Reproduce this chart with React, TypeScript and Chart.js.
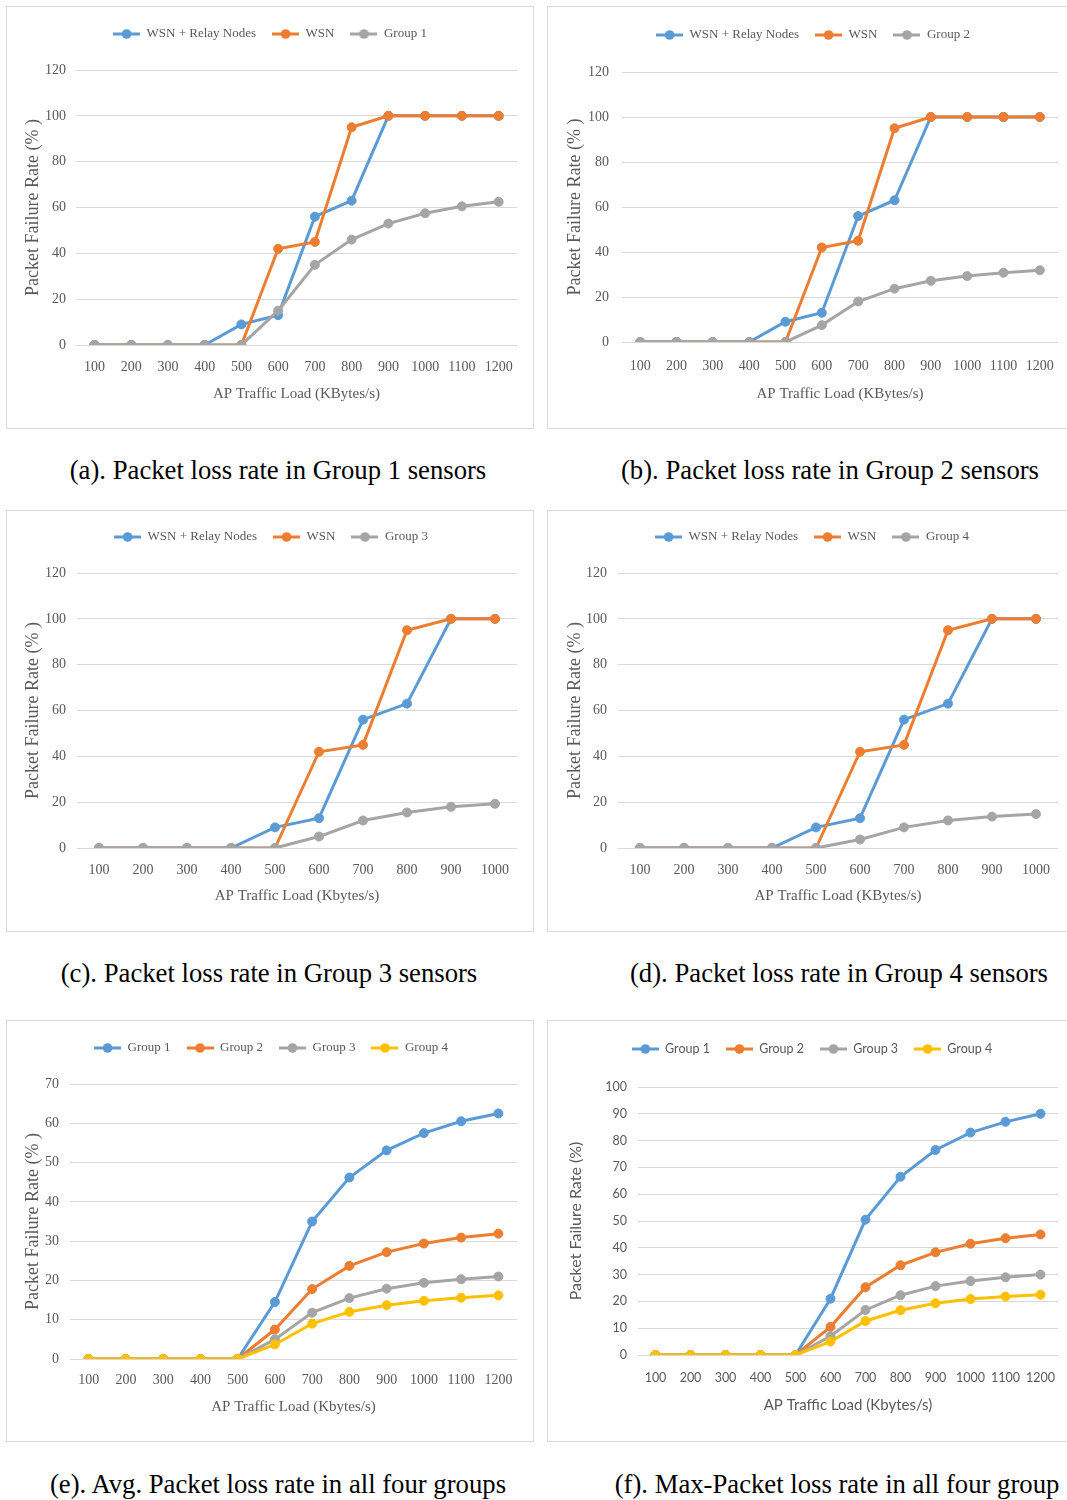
import React, { useEffect, useRef } from "react";
import { Chart, registerables } from "chart.js";

Chart.register(...registerables);

// ---------- data ----------
const loads12 = ["100", "200", "300", "400", "500", "600", "700", "800", "900", "1000", "1100", "1200"];
const loads10 = ["100", "200", "300", "400", "500", "600", "700", "800", "900", "1000"];

const relayA = [0, 0, 0, 0, 9, 13, 56, 63, 100, 100, 100, 100];
const wsnA = [0, 0, 0, 0, 0, 42, 45, 95, 100, 100, 100, 100];
const group1A = [0, 0, 0, 0, 0, 15, 35, 46, 53, 57.5, 60.5, 62.5];

const relayB = [0, 0, 0, 0, 9, 13, 56, 63, 100, 100, 100, 100];
const wsnB = [0, 0, 0, 0, 0, 42, 45, 95, 100, 100, 100, 100];
const group2B = [0, 0, 0, 0, 0, 7.5, 18, 23.7, 27.2, 29.3, 30.8, 31.9];

const relayC = [0, 0, 0, 0, 9, 13, 56, 63, 100, 100];
const wsnC = [0, 0, 0, 0, 0, 42, 45, 95, 100, 100];
const group3C = [0, 0, 0, 0, 0, 5, 12, 15.5, 18, 19.3];

const relayD = [0, 0, 0, 0, 9, 13, 56, 63, 100, 100];
const wsnD = [0, 0, 0, 0, 0, 42, 45, 95, 100, 100];
const group4D = [0, 0, 0, 0, 0, 3.7, 9, 12, 13.7, 14.8];

const avgGroup1 = [0, 0, 0, 0, 0, 14.5, 35, 46.2, 53.1, 57.5, 60.5, 62.5];
const avgGroup2 = [0, 0, 0, 0, 0, 7.5, 17.8, 23.7, 27.2, 29.4, 30.9, 31.9];
const avgGroup3 = [0, 0, 0, 0, 0, 5, 11.8, 15.5, 17.9, 19.4, 20.3, 21.0];
const avgGroup4 = [0, 0, 0, 0, 0, 3.7, 9, 12, 13.7, 14.8, 15.6, 16.2];

const maxGroup1 = [0, 0, 0, 0, 0, 21, 50.5, 66.5, 76.5, 83, 87, 90];
const maxGroup2 = [0, 0, 0, 0, 0, 10.5, 25.3, 33.5, 38.3, 41.5, 43.6, 45];
const maxGroup3 = [0, 0, 0, 0, 0, 7, 16.8, 22.3, 25.7, 27.6, 29, 30];
const maxGroup4 = [0, 0, 0, 0, 0, 5, 12.7, 16.7, 19.3, 20.9, 21.8, 22.5];

const BLUE = "#5B9BD5";
const ORANGE = "#ED7D31";
const GRAY = "#A5A5A5";
const YELLOW = "#FFC000";
const TEXT = "#595959";
const GRID = "#d9d9d9";
const SERIF = "'Liberation Serif', 'Times New Roman', serif";
const SANS = "Lato, 'Open Sans', sans-serif";

type Series = { name: string; color: string; data: number[] };
type Spec = {
  box: { l: number; t: number; w: number; h: number };
  plot: { l: number; r: number; t: number; b: number };
  legendX: number;
  legendY: number;
  yTickRight: number;
  yTitleX: number;
  xTickY: number;
  xTitleY: number;
  labels: string[];
  series: Series[];
  yMax: number;
  yStep: number;
  xTitle: string;
  yTitle: string;
  font: string;
  tickSize: number;
  legendSize: number;
  xTitleSize: number;
  yTitleSize: number;
};

const serifSizes = { font: SERIF, tickSize: 14, legendSize: 13, xTitleSize: 15, yTitleSize: 18 };

const specs: Spec[] = [
  {
    box: { l: 6, t: 6, w: 528, h: 423 },
    plot: { l: 76, r: 517, t: 70, b: 345 },
    legendX: 270, legendY: 34, yTickRight: 66, yTitleX: 33, xTickY: 366, xTitleY: 394,
    labels: loads12,
    series: [
      { name: "WSN + Relay Nodes", color: BLUE, data: relayA },
      { name: "WSN", color: ORANGE, data: wsnA },
      { name: "Group 1", color: GRAY, data: group1A },
    ],
    yMax: 120, yStep: 20, xTitle: "AP Traffic Load (KBytes/s)", yTitle: "Packet Failure Rate (% )",
    ...serifSizes,
  },
  {
    box: { l: 547, t: 6, w: 530, h: 423 },
    plot: { l: 622, r: 1058, t: 72, b: 342 },
    legendX: 813, legendY: 35, yTickRight: 609, yTitleX: 575, xTickY: 365, xTitleY: 394,
    labels: loads12,
    series: [
      { name: "WSN + Relay Nodes", color: BLUE, data: relayB },
      { name: "WSN", color: ORANGE, data: wsnB },
      { name: "Group 2", color: GRAY, data: group2B },
    ],
    yMax: 120, yStep: 20, xTitle: "AP Traffic Load (KBytes/s)", yTitle: "Packet Failure Rate (% )",
    ...serifSizes,
  },
  {
    box: { l: 6, t: 510, w: 528, h: 422 },
    plot: { l: 77, r: 517, t: 573, b: 848 },
    legendX: 271, legendY: 537, yTickRight: 66, yTitleX: 33, xTickY: 869, xTitleY: 896,
    labels: loads10,
    series: [
      { name: "WSN + Relay Nodes", color: BLUE, data: relayC },
      { name: "WSN", color: ORANGE, data: wsnC },
      { name: "Group 3", color: GRAY, data: group3C },
    ],
    yMax: 120, yStep: 20, xTitle: "AP Traffic Load (Kbytes/s)", yTitle: "Packet Failure Rate (% )",
    ...serifSizes,
  },
  {
    box: { l: 547, t: 510, w: 530, h: 422 },
    plot: { l: 618, r: 1058, t: 573, b: 848 },
    legendX: 812, legendY: 537, yTickRight: 607, yTitleX: 575, xTickY: 869, xTitleY: 896,
    labels: loads10,
    series: [
      { name: "WSN + Relay Nodes", color: BLUE, data: relayD },
      { name: "WSN", color: ORANGE, data: wsnD },
      { name: "Group 4", color: GRAY, data: group4D },
    ],
    yMax: 120, yStep: 20, xTitle: "AP Traffic Load (KBytes/s)", yTitle: "Packet Failure Rate (% )",
    ...serifSizes,
  },
  {
    box: { l: 6, t: 1020, w: 528, h: 422 },
    plot: { l: 70, r: 517, t: 1084, b: 1359 },
    legendX: 271, legendY: 1048, yTickRight: 59, yTitleX: 33, xTickY: 1379, xTitleY: 1407,
    labels: loads12,
    series: [
      { name: "Group 1", color: BLUE, data: avgGroup1 },
      { name: "Group 2", color: ORANGE, data: avgGroup2 },
      { name: "Group 3", color: GRAY, data: avgGroup3 },
      { name: "Group 4", color: YELLOW, data: avgGroup4 },
    ],
    yMax: 70, yStep: 10, xTitle: "AP Traffic Load (Kbytes/s)", yTitle: "Packet Failure Rate (% )",
    ...serifSizes,
  },
  {
    box: { l: 547, t: 1020, w: 530, h: 422 },
    plot: { l: 638, r: 1058, t: 1087, b: 1355 },
    legendX: 812, legendY: 1049, yTickRight: 627, yTitleX: 576, xTickY: 1377, xTitleY: 1405,
    labels: loads12,
    series: [
      { name: "Group 1", color: BLUE, data: maxGroup1 },
      { name: "Group 2", color: ORANGE, data: maxGroup2 },
      { name: "Group 3", color: GRAY, data: maxGroup3 },
      { name: "Group 4", color: YELLOW, data: maxGroup4 },
    ],
    yMax: 100, yStep: 10, xTitle: "AP Traffic Load (Kbytes/s)", yTitle: "Packet Failure Rate (%)",
    font: SANS, tickSize: 12.5, legendSize: 12.5, xTitleSize: 15, yTitleSize: 16,
  },
];

const captions = [
  { text: "(a). Packet loss rate in Group 1 sensors", cx: 278, cy: 470 },
  { text: "(b). Packet loss rate in Group 2 sensors", cx: 830, cy: 470 },
  { text: "(c). Packet loss rate in Group 3 sensors", cx: 269, cy: 973 },
  { text: "(d). Packet loss rate in Group 4 sensors", cx: 839, cy: 973 },
  { text: "(e). Avg. Packet loss rate in all four groups", cx: 278, cy: 1484 },
  { text: "(f). Max-Packet loss rate in all four group", cx: 837, cy: 1484 },
];

function makeIcon(color: string): HTMLCanvasElement {
  const c = document.createElement("canvas");
  c.width = 27;
  c.height = 12;
  const ctx = c.getContext("2d")!;
  ctx.strokeStyle = color;
  ctx.lineWidth = 3;
  ctx.beginPath();
  ctx.moveTo(0, 6);
  ctx.lineTo(27, 6);
  ctx.stroke();
  ctx.fillStyle = color;
  ctx.beginPath();
  ctx.arc(13.5, 6, 4.8, 0, Math.PI * 2);
  ctx.fill();
  return c;
}

function buildConfig(s: Spec): any {
  const cl = s.box.l + 1;
  const ct = s.box.t + 1;
  const cw = s.box.w - 2;
  const ch = s.box.h - 2;
  const plotL = s.plot.l - cl;
  const plotR = s.plot.r - cl;
  const plotT = s.plot.t - ct;
  const plotB = s.plot.b - ct;
  const padR = cw - plotR;
  const legC = s.legendX - cl;
  let padL = 2 * legC - cw + padR;
  if (padL < 0) padL = 0;
  if (padL > plotL - 20) padL = plotL - 20;
  const lp = 16;
  const padT = Math.max(0, s.legendY - ct - lp - s.legendSize / 2);
  const legendBottom = padT + s.legendSize + lp + 10;
  const spacer = Math.max(1, plotT - legendBottom);
  const yTitleLH = s.yTitleSize * 1.2;
  const xTitleLH = s.xTitleSize * 1.2;
  const tickLH = s.tickSize * 1.2;
  const icons = s.series.map((se) => makeIcon(se.color));
  const n = s.series.length;

  return {
    type: "line",
    data: {
      labels: s.labels,
      datasets: s.series.map((se, i) => ({
        label: se.name,
        data: se.data,
        borderColor: se.color,
        backgroundColor: se.color,
        pointBackgroundColor: se.color,
        pointBorderColor: se.color,
        pointBorderWidth: 1,
        pointRadius: 4.5,
        borderWidth: 3,
        tension: 0,
        fill: false,
        order: n - i,
      })),
    },
    options: {
      responsive: false,
      animation: false,
      devicePixelRatio: 1,
      events: [],
      layout: { padding: { left: padL, right: padR, top: padT, bottom: 0 } },
      plugins: {
        tooltip: { enabled: false },
        title: {
          display: true,
          text: "",
          weight: 500,
          position: "top",
          font: { size: 1, lineHeight: 1 },
          padding: { top: 0, bottom: spacer - 1 },
        },
        legend: {
          display: true,
          position: "top",
          labels: {
            usePointStyle: true,
            pointStyleWidth: 27,
            padding: lp,
            color: TEXT,
            font: { family: s.font, size: s.legendSize },
            sort: (a: any, b: any) => a.datasetIndex - b.datasetIndex,
            generateLabels: (chart: any) => {
              const items = Chart.defaults.plugins.legend.labels.generateLabels(chart);
              return items.map((it: any) => ({ ...it, pointStyle: icons[it.datasetIndex] }));
            },
          },
        },
      },
      scales: {
        x: {
          offset: true,
          grid: { display: false },
          border: { display: false },
          ticks: {
            color: TEXT,
            font: { family: s.font, size: s.tickSize },
            padding: s.xTickY - s.plot.b - tickLH / 2 - 7,
            maxRotation: 0,
            autoSkip: false,
          },
          title: {
            display: true,
            text: s.xTitle,
            color: TEXT,
            font: { family: s.font, size: s.xTitleSize },
            padding: { top: 0, bottom: ch - (s.xTitleY - ct) - xTitleLH / 2 },
          },
          afterFit: (sc: any) => {
            sc.height = ch - plotB;
          },
        },
        y: {
          min: 0,
          max: s.yMax,
          grid: { color: GRID, lineWidth: 1, drawTicks: false },
          border: { display: false },
          ticks: {
            stepSize: s.yStep,
            color: TEXT,
            font: { family: s.font, size: s.tickSize },
            padding: s.plot.l - s.yTickRight,
          },
          title: {
            display: true,
            text: s.yTitle,
            color: TEXT,
            font: { family: s.font, size: s.yTitleSize },
            padding: { top: s.yTitleX - cl - padL - yTitleLH / 2, bottom: 0 },
          },
          afterFit: (sc: any) => {
            sc.width = plotL - padL;
          },
        },
      },
    },
  };
}

function Panel({ spec }: { spec: Spec }) {
  const ref = useRef<HTMLCanvasElement | null>(null);
  useEffect(() => {
    if (!ref.current) return;
    const chart = new Chart(ref.current, buildConfig(spec));
    return () => chart.destroy();
  }, [spec]);
  const cw = spec.box.w - 2;
  const ch = spec.box.h - 2;
  return (
    <div
      style={{
        position: "absolute",
        left: spec.box.l,
        top: spec.box.t,
        width: cw,
        height: ch,
        border: "1px solid #d9d9d9",
        background: "#fff",
      }}
    >
      <canvas ref={ref} width={cw} height={ch} style={{ display: "block", width: cw, height: ch }} />
    </div>
  );
}

export default function App() {
  return (
    <div
      style={{
        position: "absolute",
        left: 0,
        top: 0,
        width: 1067,
        height: 1500,
        overflow: "hidden",
        background: "#fff",
      }}
    >
      {specs.map((s, i) => (
        <Panel key={i} spec={s} />
      ))}
      {captions.map((c, i) => (
        <div
          key={"c" + i}
          style={{
            position: "absolute",
            left: c.cx - 300,
            top: c.cy - 16,
            width: 600,
            height: 32,
            lineHeight: "32px",
            textAlign: "center",
            fontFamily: SERIF,
            fontSize: 26.7,
            color: "#000",
            whiteSpace: "nowrap",
          }}
        >
          {c.text}
        </div>
      ))}
    </div>
  );
}
